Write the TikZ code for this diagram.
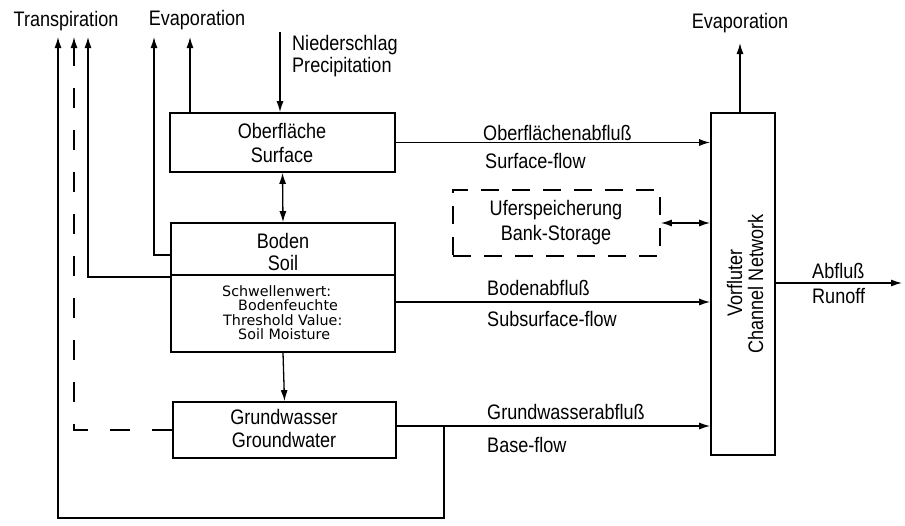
\documentclass[tikz,border=0pt]{standalone}
\usepackage{fontspec}
\setmainfont{Liberation Sans}[FakeStretch=0.86]
\newfontfamily\dejavu{DejaVu Sans}
\usetikzlibrary{arrows.meta,calc}
\begin{document}
\begin{tikzpicture}[x=1pt,y=-1pt,
  box/.style={draw, line width=1.7pt, inner sep=0pt},
  lab/.style={font=\fontsize{21}{22}\selectfont, inner sep=0pt},
  slab/.style={font=\dejavu\fontsize{14.3}{16}\selectfont, inner sep=0pt, anchor=base west},
  flow/.style={line width=1.3pt},
  tip/.tip={Latex[length=11pt,width=7pt]},
  arr/.style={flow, -tip},
  darr/.style={flow, tip-tip},
]
\useasboundingbox (0,0) rectangle (905,525);
% boxes
\node[box, minimum width=225pt, minimum height=59pt] (surf) at (282.5,142.5) {};
\node[box, minimum width=224pt, minimum height=129pt] (soil) at (283,287.5) {};
\node[box, minimum width=223pt, minimum height=56pt] (gw) at (284.5,430) {};
\node[box, minimum width=64pt, minimum height=342pt] (chan) at (743,284) {};
\node[box, dash pattern=on 18pt off 13pt, minimum width=207pt, minimum height=66pt] (bank) at (556.5,223) {};
\coordinate (ydiv) at (0,275);
\draw[line width=1.3pt] (soil.west |- ydiv) -- (soil.east |- ydiv);
% box texts
\node[lab, anchor=base] (surfA) at (282,138) {Oberfläche};
\node[lab, anchor=base] (surfB) at (282,162) {Surface};
\node[lab, anchor=base] (soilA) at (283,248) {Boden};
\node[lab, anchor=base] (soilB) at (283,270) {Soil};
\node[slab] (thrA) at (222,296) {Schwellenwert:};
\node[slab] (thrB) at (238,310) {Bodenfeuchte};
\node[slab] (thrC) at (223,325) {Threshold Value:};
\node[slab] (thrD) at (238,339) {Soil Moisture};
\node[lab, anchor=base] (gwA) at (284,424) {Grundwasser};
\node[lab, anchor=base] (gwB) at (284,447) {Groundwater};
\node[lab, anchor=base] (bankA) at (556,215) {Uferspeicherung};
\node[lab, anchor=base] (bankB) at (556,240) {Bank-Storage};
\node[lab, rotate=90, anchor=base] (chanA) at (742,283) {Vorfluter};
\node[lab, rotate=90, anchor=base] (chanB) at (763,284) {Channel Network};
% outer labels
\node[lab, anchor=base] (trans) at (66,26) {Transpiration};
\node[lab, anchor=base] (evapL) at (197,25) {Evaporation};
\node[lab, anchor=base] (evapR) at (740,28) {Evaporation};
\node[lab, anchor=base west] (niedA) at (292,50) {Niederschlag};
\node[lab, anchor=base west] (niedB) at (292,72) {Precipitation};
\node[lab, anchor=base west] (sfA) at (483,140) {Oberflächenabfluß};
\node[lab, anchor=base west] (sfB) at (485,168) {Surface-flow};
\node[lab, anchor=base west] (ssA) at (487,295) {Bodenabfluß};
\node[lab, anchor=base west] (ssB) at (487,326) {Subsurface-flow};
\node[lab, anchor=base west] (bfA) at (487,419) {Grundwasserabfluß};
\node[lab, anchor=base west] (bfB) at (487,452) {Base-flow};
\node[lab, anchor=base west] (roA) at (812,278) {Abfluß};
\node[lab, anchor=base west] (roB) at (812,303) {Runoff};
% connectors
\coordinate (nTop) at (280,32);
\draw[arr] (nTop) -- (nTop |- surf.north);
\draw[darr] (surf.south) -- (soil.north);
\draw[arr] (soil.south) -- (gw.north);
\coordinate (evB) at (190,37);
\draw[arr] (evB |- surf.north) -- (evB);
\coordinate (evA) at (154,37);
\coordinate (yA) at (0,255);
\draw[arr] (soil.west |- yA) -| (evA);
\coordinate (trC) at (88,37);
\coordinate (yC) at (0,277);
\draw[arr] (soil.west |- yC) -| (trC);
\coordinate (trB) at (74,37);
\draw[flow, dash pattern=on 20pt off 22pt, -tip] (gw.west) -| (trB);
\coordinate (trA) at (58,37);
\coordinate (br) at (444,0);
\coordinate (yBot) at (0,518);
\coordinate (yGw) at (0,426);
\draw[arr] (br |- yGw) -- (br |- yBot) -| (trA);
\draw[arr] (surf.east) -- (surf.east -| chan.west);
\coordinate (ySoil) at (0,302);
\draw[arr] (soil.east |- ySoil) -- (chan.west |- ySoil);
\draw[arr] (gw.east |- yGw) -- (chan.west |- yGw);
\draw[darr] (bank.east) -- (bank.east -| chan.west);
\coordinate (evC) at (740,43);
\draw[arr] (evC |- chan.north) -- (evC);
\coordinate (ro) at (902,283);
\draw[arr] (chan.east |- ro) -- (ro);
\end{tikzpicture}
\end{document}
